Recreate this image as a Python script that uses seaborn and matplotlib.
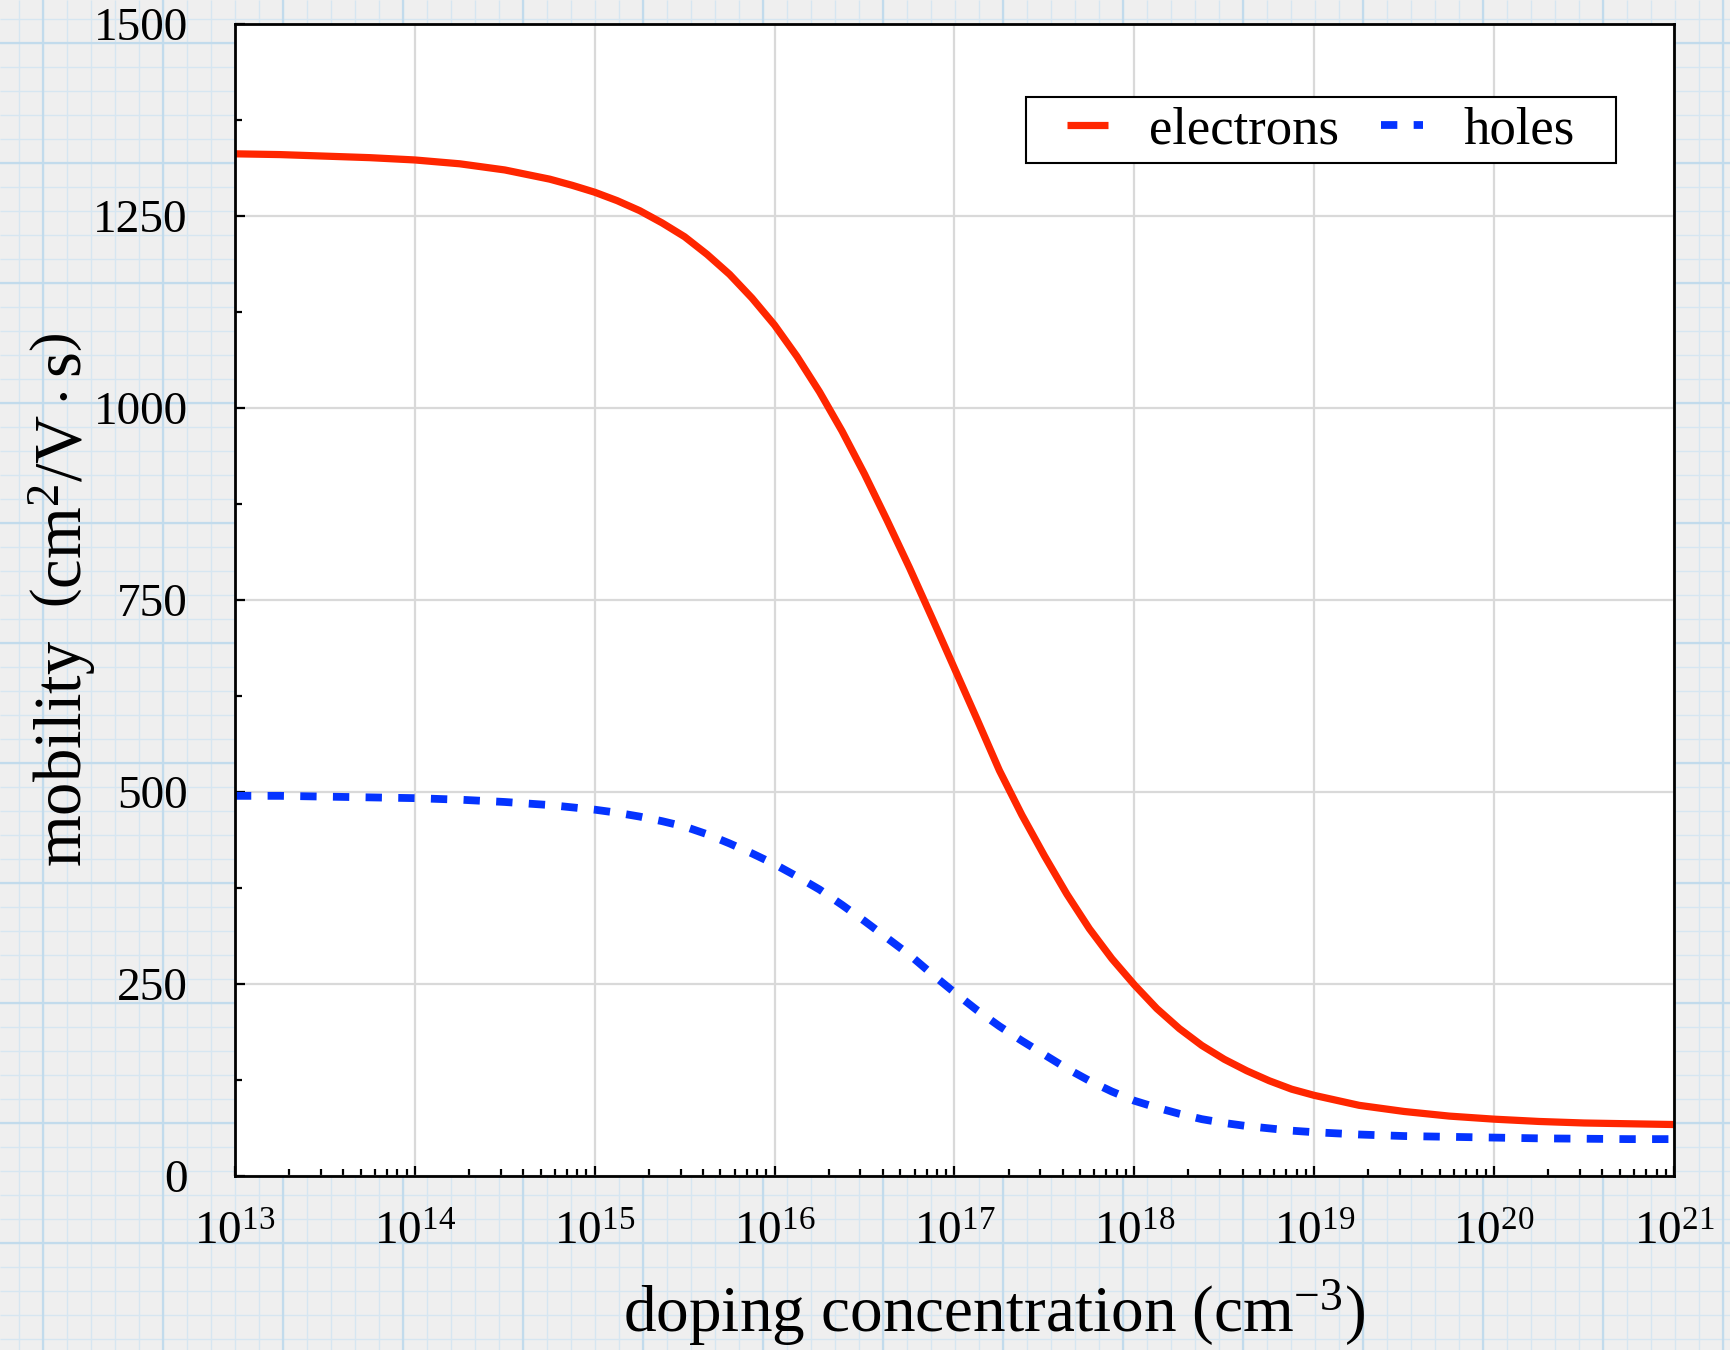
import matplotlib
matplotlib.use("Agg")
import matplotlib.pyplot as plt
import matplotlib.ticker as mticker
from matplotlib.legend_handler import HandlerLine2D
from matplotlib.lines import Line2D
from matplotlib.path import Path
import numpy as np
import pandas as pd
import seaborn as sns

sns.set_style("whitegrid")
plt.rcParams['font.family'] = ['Liberation Serif', 'DejaVu Serif']
plt.rcParams['mathtext.fontset'] = 'custom'
plt.rcParams['mathtext.rm'] = 'Liberation Serif'
plt.rcParams['mathtext.it'] = 'Liberation Serif:italic'
for key in ['text.color', 'axes.labelcolor', 'xtick.color', 'ytick.color']:
    plt.rcParams[key] = 'black'

# doping concentration exponents (log10 of cm^-3)
log_conc = [13.0, 13.25, 13.5, 13.75, 14.0, 14.25, 14.5, 14.625, 14.75, 14.875,
            15.0, 15.125, 15.25, 15.375, 15.5, 15.625, 15.75, 15.875,
            16.0, 16.125, 16.25, 16.375, 16.5, 16.625, 16.75, 16.875,
            17.0, 17.125, 17.25, 17.375, 17.5, 17.625, 17.75, 17.875,
            18.0, 18.125, 18.25, 18.375, 18.5, 18.625, 18.75, 18.875,
            19.0, 19.25, 19.5, 19.75, 20.0, 20.25, 20.5, 20.75, 21.0]

# mobility (cm^2/V.s)
electrons = [1331, 1330, 1328, 1326, 1323, 1318, 1310, 1304, 1298, 1290,
             1281, 1270, 1257, 1241, 1223, 1200, 1174, 1143,
             1108, 1067, 1021, 970, 914, 854, 792, 727,
             661, 595, 528, 470, 417, 367, 322, 283,
             249, 218, 192, 170, 152, 137, 124, 113,
             105, 92, 84, 78, 74, 71, 69, 68, 67]
holes = [495, 495, 494, 493, 492, 490, 487, 485, 483, 480,
         477, 473, 468, 462, 455, 445, 433, 420,
         406, 390, 373, 353, 332, 310, 288, 263,
         239, 216, 195, 176, 158, 140, 124, 110,
         98, 89, 81, 74, 69, 65, 62, 59,
         57, 54, 52, 51, 50, 49, 48.5, 48, 48]

y_ticks = [0, 250, 500, 750, 1000, 1250, 1500]

df = pd.DataFrame({"conc": np.power(10.0, log_conc),
                   "electrons": electrons,
                   "holes": holes})

W, H = 1730, 1350
fig, ax = plt.subplots(figsize=(W / 100, H / 100), dpi=100)
fig.subplots_adjust(left=0.1358, right=0.9676, bottom=0.1289, top=0.9822)
fig.patch.set_facecolor('#efefef')

# graph-paper backdrop behind the plot
bg = fig.add_axes([0, 0, 1, 1], zorder=-10)
bg.set_axis_off()
bg.set_xlim(0, W)
bg.set_ylim(H, 0)
bg.vlines(np.arange(19, W, 24), 0, H, color='#d6e6f1', linewidth=1.0)
bg.hlines(np.arange(19, H, 24), 0, W, color='#d6e6f1', linewidth=1.0)
bg.vlines(np.arange(43, W, 120), 0, H, color='#c2dbec', linewidth=1.6)
bg.hlines(np.arange(43, H, 120), 0, W, color='#c2dbec', linewidth=1.6)

ax.set_facecolor('white')
sns.lineplot(data=df, x="conc", y="electrons", ax=ax, color='#ff2600',
             linewidth=5.2, label='electrons', solid_capstyle='butt')
sns.lineplot(data=df, x="conc", y="holes", ax=ax, color='#0433ff',
             linewidth=5.6, label='holes', linestyle=(0, (2.1, 2.1)),
             dash_capstyle='butt')

ax.set_xscale('log')
ax.set_xlim(1e13, 1e21)
ax.set_ylim(0, 1500)
ax.xaxis.set_major_locator(mticker.LogLocator(base=10, numticks=20))
ax.xaxis.set_minor_locator(mticker.LogLocator(base=10, subs=np.arange(2, 10), numticks=100))
ax.xaxis.set_minor_formatter(mticker.NullFormatter())
ax.set_yticks(y_ticks)
ax.yaxis.set_minor_locator(mticker.MultipleLocator(125))

ax.grid(True, which='major', color='#d9d9d9', linewidth=1.6)
ax.grid(False, which='minor')
for s in ax.spines.values():
    s.set_color('black')
    s.set_linewidth(2.0)

ax.tick_params(which='both', direction='in', color='black', width=1.6,
               bottom=True, left=True, top=False, right=False)
ax.tick_params(which='major', length=7)
ax.tick_params(which='minor', length=5)
ax.tick_params(axis='y', which='major', labelsize=34, pad=34)
ax.tick_params(axis='x', which='major', labelsize=34, pad=26)

ax.set_xlabel(r"doping concentration $(\mathrm{cm}^{-3})$", fontsize=47)
ax.set_ylabel(r"mobility  $\left(\mathrm{cm^2/V \cdot s}\right)$", fontsize=48)
ax.xaxis.set_label_coords(0.5276, -0.088)
ax.yaxis.set_label_coords(-0.095, 0.5)

# legend: handles get leading space, frame gets extra width on the right
leg = ax.legend(loc='upper right', bbox_to_anchor=(0.9375, 0.9366), ncol=2,
                fontsize=38, frameon=True, fancybox=False, framealpha=1,
                edgecolor='black', handlelength=1.38, handletextpad=0.78,
                columnspacing=0.2, borderpad=0.17, borderaxespad=0,
                handler_map={Line2D: HandlerLine2D(xpad=0.6)})
leg.get_frame().set_linewidth(1.5)


def wide_box(x0, y0, width, height, mutation_size):
    right = x0 + width + 0.6 * mutation_size
    return Path([(x0, y0), (right, y0), (right, y0 + height),
                 (x0, y0 + height), (x0, y0)], closed=True)


leg.get_frame().set_boxstyle(wide_box)

fig.savefig("out.png", dpi=100, facecolor=fig.get_facecolor())
